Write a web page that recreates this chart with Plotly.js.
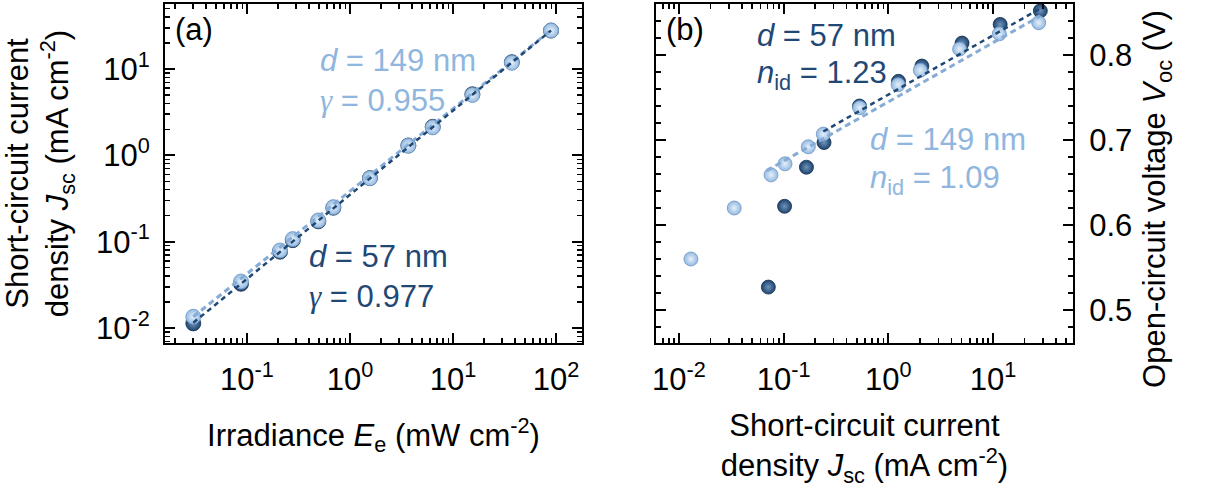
<!DOCTYPE html>
<html>
<head>
<meta charset="utf-8">
<script src="https://cdn.plot.ly/plotly-3.0.1.min.js"></script>
<style>
html,body{margin:0;padding:0;background:#fff;}
#chart{width:1206px;height:496px;}
</style>
</head>
<body>
<div id="chart"></div>
<script>
// ---- Panel (a): Jsc vs irradiance ----
const irradiance = [0.0301, 0.0875, 0.209, 0.278, 0.492, 0.689, 1.56, 3.68, 6.35, 15.4, 37.2, 89.3];
const jsc57a  = [0.0113, 0.0325, 0.0765, 0.104, 0.172, 0.247, 0.545, 1.30, 2.14, 5.10, 12.0, 27.9];
const jsc149a = [0.0135, 0.0345, 0.0790, 0.107, 0.176, 0.251, 0.543, 1.29, 2.11, 5.00, 11.8, 27.9];
const fitAx = [0.0301, 89.3];
const fitA57 = [0.0115, 27.9];
const fitA149 = [0.0135, 28.2];

// ---- Panel (b): Voc vs Jsc ----
const jsc149b = [0.0130, 0.0337, 0.0757, 0.103, 0.172, 0.239, 0.532, 1.24, 2.02, 4.79, 11.5, 27.3];
const voc149  = [0.560, 0.620, 0.659, 0.672, 0.692, 0.707, 0.738, 0.765, 0.782, 0.807, 0.825, 0.838];
const jsc57b  = [0.0714, 0.102, 0.165, 0.243, 0.530, 1.25, 2.09, 5.06, 11.7, 28.3];
const voc57   = [0.527, 0.622, 0.668, 0.697, 0.740, 0.769, 0.787, 0.814, 0.836, 0.852];
const fitB57x = [0.239, 30.5];
const fitB57y = [0.710, 0.857];
const fitB149x = [0.0689, 28.3];
const fitB149y = [0.664, 0.846];

// ---- Tick labels ----
const xTickValsA = [0.1, 1, 10, 100];
const xTickTextA = ['10<sup>-1</sup>', '10<sup>0</sup>', '10<sup>1</sup>', '10<sup>2</sup>'];
const yTickValsA = [0.01, 0.1, 1, 10];
const yTickTextA = ['10<sup>-2</sup>', '10<sup>-1</sup>', '10<sup>0</sup>', '10<sup>1</sup>'];
const xTickValsB = [0.01, 0.1, 1, 10];
const xTickTextB = ['10<sup>-2</sup>', '10<sup>-1</sup>', '10<sup>0</sup>', '10<sup>1</sup>'];
const yTickValsB = [0.5, 0.6, 0.7, 0.8];
const yTickTextB = ['0.5', '0.6', '0.7', '0.8'];

const LIGHT = '#8fb6de';
const DARK = '#1f4874';
const FONT = 'Liberation Sans, Arial, Helvetica, sans-serif';
const FS = 31;
const GAMMA = '<span style="font-family:Liberation Serif, DejaVu Serif, serif"><i>γ</i></span>';

function logMinor(lo, hi) {
  const v = [];
  for (let e = lo; e <= hi; e++) for (let m = 2; m <= 9; m++) v.push(m * Math.pow(10, e));
  return v;
}

const lightMarker = (sz) => ({size: sz, color: '#93b9e0', gradient: {type: 'radial', color: '#e6f0fa'}, line: {color: '#6e97c4', width: 0.8}});
const darkMarker = (sz) => ({size: sz, color: '#1d4470', gradient: {type: 'radial', color: '#7093b9'}, line: {color: '#14324f', width: 0.8}});

const traces = [
  {x: irradiance, y: jsc57a, xaxis: 'x', yaxis: 'y', mode: 'markers', marker: darkMarker(15)},
  {x: irradiance, y: jsc149a, xaxis: 'x', yaxis: 'y', mode: 'markers', marker: lightMarker(15)},
  {x: fitAx, y: fitA149, xaxis: 'x', yaxis: 'y', mode: 'lines', line: {color: '#86acd6', width: 3, dash: '6px,4px'}},
  {x: fitAx, y: fitA57, xaxis: 'x', yaxis: 'y', mode: 'lines', line: {color: DARK, width: 2.5, dash: '5px,4px'}},

  {x: jsc57b, y: voc57, xaxis: 'x2', yaxis: 'y2', mode: 'markers', marker: darkMarker(14)},
  {x: jsc149b, y: voc149, xaxis: 'x2', yaxis: 'y2', mode: 'markers', marker: lightMarker(14)},
  {x: fitB149x, y: fitB149y, xaxis: 'x2', yaxis: 'y2', mode: 'lines', line: {color: '#86acd6', width: 3, dash: '6px,4px'}},
  {x: fitB57x, y: fitB57y, xaxis: 'x2', yaxis: 'y2', mode: 'lines', line: {color: DARK, width: 2.5, dash: '5px,4px'}}
];

const axBase = {
  showline: true, linewidth: 2, linecolor: '#000', mirror: 'ticks',
  ticks: 'inside', ticklen: 10, tickwidth: 2, tickcolor: '#000',
  showgrid: false, zeroline: false,
  tickfont: {size: FS, color: '#000', family: FONT},
  tickmode: 'array'
};

const layout = {
  width: 1206, height: 496,
  margin: {l: 165, r: 133, t: 4, b: 153},
  paper_bgcolor: '#fff', plot_bgcolor: '#fff',
  showlegend: false,
  font: {family: FONT, color: '#000', size: FS},
  xaxis: Object.assign({}, axBase, {
    type: 'log', domain: [0, 0.4593], range: [-1.796, 2.252], anchor: 'y',
    tickvals: xTickValsA, ticktext: xTickTextA, ticklabelstandoff: 8,
    minor: {tickmode: 'array', tickvals: logMinor(-2, 2), ticks: 'inside', ticklen: 5, tickwidth: 1.5, tickcolor: '#000'},
    title: {text: 'Irradiance <i>E</i><sub>e</sub> (mW cm<sup>-2</sup>)', font: {size: FS, family: FONT}, standoff: 28}
  }),
  yaxis: Object.assign({}, axBase, {
    type: 'log', domain: [0, 1], range: [-2.174, 1.753], anchor: 'x',
    tickvals: yTickValsA, ticktext: yTickTextA, ticklabelstandoff: 7,
    minor: {tickmode: 'array', tickvals: logMinor(-3, 1), ticks: 'inside', ticklen: 5, tickwidth: 1.5, tickcolor: '#000'},
    title: {text: 'Short-circuit current<br>density <i>J</i><sub>sc</sub> (mA cm<sup>-2</sup>)', font: {size: FS, family: FONT}, standoff: 18}
  }),
  xaxis2: Object.assign({}, axBase, {
    type: 'log', domain: [0.5407, 1], range: [-2.220, 1.764], anchor: 'y2',
    tickvals: xTickValsB, ticktext: xTickTextB, ticklabelstandoff: 8,
    minor: {tickmode: 'array', tickvals: logMinor(-3, 1), ticks: 'inside', ticklen: 5, tickwidth: 1.5, tickcolor: '#000'},
    title: {text: 'Short-circuit current<br>density <i>J</i><sub>sc</sub> (mA cm<sup>-2</sup>)', font: {size: FS, family: FONT}, standoff: 18}
  }),
  yaxis2: Object.assign({}, axBase, {
    domain: [0, 1], range: [0.4612, 0.860], anchor: 'x2', side: 'right',
    tickvals: yTickValsB, ticktext: yTickTextB, ticklabelstandoff: 8,
    minor: {dtick: 0.02, ticks: 'inside', ticklen: 5, tickwidth: 1.5, tickcolor: '#000'}
  }),
  annotations: [
    {text: 'Open-circuit voltage <i>V</i><sub>oc</sub> (V)', xref: 'paper', yref: 'paper', x: 1.0925, y: 0.425, xanchor: 'center', yanchor: 'middle', textangle: -90, showarrow: false, font: {size: FS, color: '#000'}},
    {text: '(a)', xref: 'paper', yref: 'paper', x: 0.0, y: 1, xanchor: 'left', yanchor: 'top', xshift: 8, yshift: -6, showarrow: false, font: {size: FS, color: '#000'}},
    {text: '<i>d</i> = 149 nm', xref: 'x domain', yref: 'y domain', x: 0.366, y: 0.832, xanchor: 'left', yanchor: 'middle', showarrow: false, font: {size: FS, color: LIGHT}},
    {text: GAMMA + ' = 0.955', xref: 'x domain', yref: 'y domain', x: 0.366, y: 0.714, xanchor: 'left', yanchor: 'middle', showarrow: false, font: {size: FS, color: LIGHT}},
    {text: '<i>d</i> = 57 nm', xref: 'x domain', yref: 'y domain', x: 0.34, y: 0.254, xanchor: 'left', yanchor: 'middle', showarrow: false, font: {size: FS, color: DARK}},
    {text: GAMMA + ' = 0.977', xref: 'x domain', yref: 'y domain', x: 0.34, y: 0.136, xanchor: 'left', yanchor: 'middle', showarrow: false, font: {size: FS, color: DARK}},

    {text: '(b)', xref: 'x2 domain', yref: 'paper', x: 0.0, y: 1, xanchor: 'left', yanchor: 'top', xshift: 8, yshift: -6, showarrow: false, font: {size: FS, color: '#000'}},
    {text: '<i>d</i> = 57 nm', xref: 'x2 domain', yref: 'y2 domain', x: 0.237, y: 0.908, xanchor: 'left', yanchor: 'middle', showarrow: false, font: {size: FS, color: DARK}},
    {text: '<i>n</i><sub>id</sub> = 1.23', xref: 'x2 domain', yref: 'y2 domain', x: 0.237, y: 0.79, xanchor: 'left', yanchor: 'middle', showarrow: false, font: {size: FS, color: DARK}},
    {text: '<i>d</i> = 149 nm', xref: 'x2 domain', yref: 'y2 domain', x: 0.508, y: 0.6, xanchor: 'left', yanchor: 'middle', showarrow: false, font: {size: FS, color: LIGHT}},
    {text: '<i>n</i><sub>id</sub> = 1.09', xref: 'x2 domain', yref: 'y2 domain', x: 0.508, y: 0.48, xanchor: 'left', yanchor: 'middle', showarrow: false, font: {size: FS, color: LIGHT}}
  ]
};

Plotly.newPlot('chart', traces, layout, {displayModeBar: false, staticPlot: true});
</script>
</body>
</html>
